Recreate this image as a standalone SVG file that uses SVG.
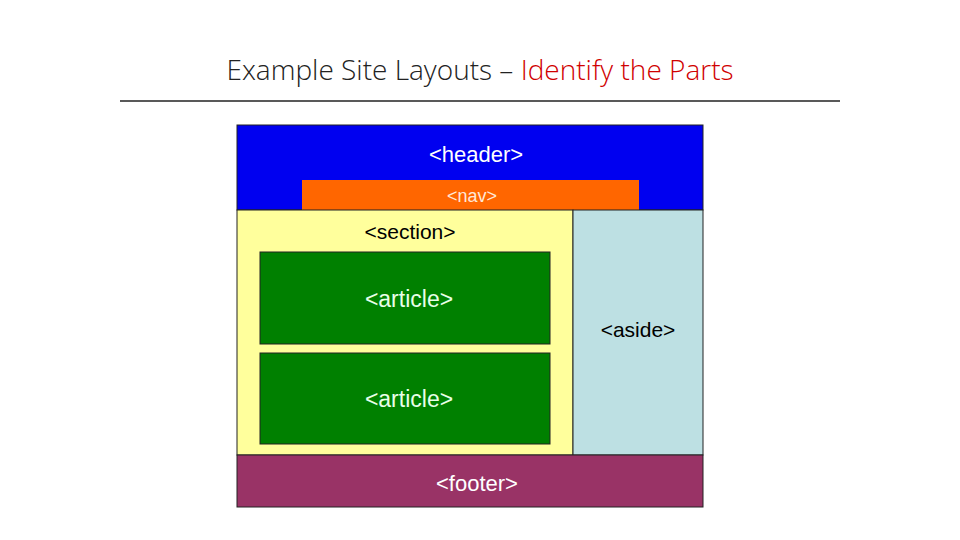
<svg xmlns="http://www.w3.org/2000/svg" width="960" height="540" viewBox="0 0 960 540">
<style>
.t{font-family:"Liberation Sans",Arial,sans-serif;text-anchor:middle}
.b{stroke:#222;stroke-width:1}
</style>
<rect width="960" height="540" fill="#fff"/>
<text x="480" y="80" font-family="Open Sans, sans-serif" font-weight="300" font-size="28" text-anchor="middle" fill="#222">Example Site Layouts – <tspan fill="#d00000">Identify the Parts</tspan></text>
<line x1="120" y1="101" x2="840" y2="101" stroke="#222" stroke-width="1.5"/>
<g id="header"><rect x="237" y="125" width="466" height="85" fill="#0000f0" class="b"/><text x="476" y="162" class="t" font-size="22" fill="#fff">&lt;header&gt;</text></g>
<g id="nav"><rect x="302" y="180" width="337" height="30" fill="#ff6600"/><text x="472" y="202" class="t" font-size="18" fill="#ffe8d8">&lt;nav&gt;</text></g>
<g id="section"><rect x="237" y="210" width="336" height="245" fill="#ffff9c" class="b"/><text x="410" y="239" class="t" font-size="21" fill="#000">&lt;section&gt;</text></g>
<g id="aside"><rect x="573" y="210" width="130" height="245" fill="#bde0e3" class="b"/><text x="638" y="337" class="t" font-size="21" fill="#000">&lt;aside&gt;</text></g>
<g id="article1"><rect x="260" y="252" width="290" height="92" fill="#008000" class="b"/><text x="409" y="307" class="t" font-size="23" fill="#e8ffe8">&lt;article&gt;</text></g>
<g id="article2"><rect x="260" y="353" width="290" height="91" fill="#008000" class="b"/><text x="409" y="407" class="t" font-size="23" fill="#e8ffe8">&lt;article&gt;</text></g>
<g id="footer"><rect x="237" y="455" width="466" height="52" fill="#993366" class="b"/><text x="477" y="491" class="t" font-size="22" fill="#fff">&lt;footer&gt;</text></g>
<g id="connectors"/>
</svg>
